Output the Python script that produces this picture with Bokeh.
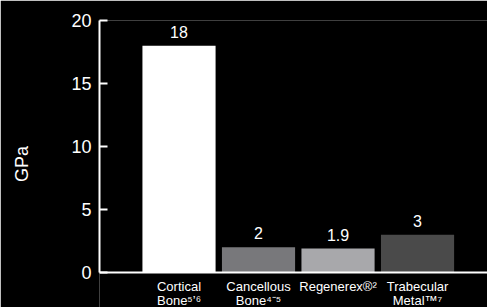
from bokeh.plotting import figure
from bokeh.models import ColumnDataSource, LabelSet, FixedTicker, Range1d, Span
from bokeh.core.properties import value
from bokeh.embed import file_html
from bokeh.resources import INLINE

# ---- data ----
cat_line1 = ["Cortical", "Cancellous", "Regenerex\u00ae\u00b2", "Trabecular"]
cat_line2 = ["Bone\u2075\u02bc\u2076", "Bone\u2074\u207b\u2075", "", "Metal\u2122\u2077"]
values = [18, 2, 1.9, 3]
value_labels = ["18", "2", "1.9", "3"]
bar_colors = ["#ffffff", "#78787b", "#a8a8ab", "#4a4a4a"]
y_ticks = [0, 5, 10, 15, 20]
y_label = "GPa"

positions = list(range(1, len(values) + 1))
FONT = "Liberation Sans"

src = ColumnDataSource(dict(x=positions, top=values, color=bar_colors,
                            vlab=value_labels, l1=cat_line1, l2=cat_line2,
                            zero=[0] * len(values)))

p = figure(width=487, height=307, output_backend="svg", toolbar_location=None,
           x_range=Range1d(0.0, 4.88), y_range=Range1d(-2.78, 20),
           x_axis_location=None,
           background_fill_color="black", border_fill_color="black",
           min_border_left=99, min_border_right=0, min_border_top=20,
           min_border_bottom=0)
p.outline_line_color = None
p.grid.visible = False

p.vbar(x="x", top="top", bottom=0, width=0.92, color="color", line_color=None,
       source=src)

# x axis line at zero
p.add_layout(Span(location=0, dimension="width", line_color="white",
                  line_width=2))

# value labels
p.add_layout(LabelSet(x="x", y="top", text="vlab", source=src,
                      text_align="center", text_baseline="alphabetic",
                      y_offset=8, text_color="white",
                      text_font_size="16px", text_font=value(FONT)))

# y axis
ya = p.yaxis[0]
ya.bounds = (0, 20)
ya.ticker = FixedTicker(ticks=y_ticks)
ya.axis_line_color = "white"
ya.axis_line_width = 2
ya.major_tick_line_color = "white"
ya.major_tick_line_width = 2
ya.major_tick_in = 8
ya.major_tick_out = 0
ya.minor_tick_line_color = None
ya.major_label_standoff = 8
ya.major_label_text_color = "white"
ya.major_label_text_font_size = "18px"
ya.major_label_text_font = FONT
ya.axis_label = y_label
ya.axis_label_text_color = "white"
ya.axis_label_text_font_size = "18px"
ya.axis_label_text_font = FONT
ya.axis_label_text_font_style = "normal"
ya.axis_label_standoff = 36

# category labels
for col, off in (("l1", -19), ("l2", -33)):
    p.add_layout(LabelSet(x="x", y="zero", text=col, source=src,
                          text_align="center", text_baseline="alphabetic",
                          y_offset=off, text_color="white",
                          text_font_size="13px", text_font=value(FONT)))

open("out.html", "w").write(file_html(p, INLINE))
